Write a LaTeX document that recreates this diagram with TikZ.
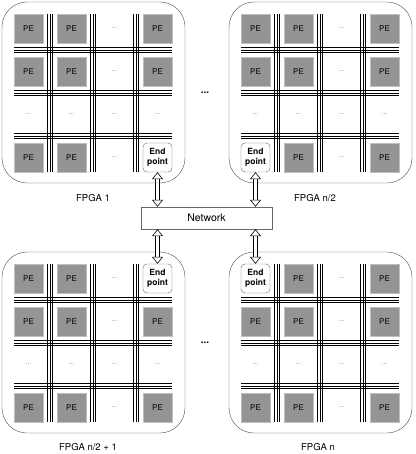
\documentclass[tikz,border=0pt]{standalone}
\usepackage{fontspec}
\setmainfont{TeX Gyre Heros}
\usetikzlibrary{arrows.meta}

\tikzset{
  fpga/.style={draw=black!70, rounded corners=25pt},
  pe/.style={draw=black!25, fill=black!42, minimum size=29pt, inner sep=0pt,
    font=\fontsize{8}{9}\selectfont},
  endpt/.style={draw=black!60, fill=white, rounded corners=4pt, minimum size=29pt,
    inner sep=0pt, align=center, font=\fontsize{8.5}{10}\selectfont\bfseries},
  gap/.style={text=black!45, inner sep=0pt, font=\fontsize{7}{8}\selectfont},
  bus/.style={black, line width=0.5pt},
  link/.style={double, double distance=3.5pt, line width=0.6pt,
    {Triangle[open,length=7pt,width=11pt,line width=0.6pt]}-{Triangle[open,length=7pt,width=11pt,line width=0.6pt]}},
}

\begin{document}
\begin{tikzpicture}[x=1pt,y=-1pt]
  \useasboundingbox (0,0) rectangle (415,454);

  % the four FPGAs
  \foreach \i/\bx/\by/\ex/\ey/\lx/\ly/\lab in {1/2/2/4/4/93/198/{FPGA 1},
      2/229/2/1/4/315/198/{FPGA n/2}, 3/2/252/4/1/88/447/{FPGA n/2 + 1},
      4/229/252/1/1/318/447/{FPGA n}} {
    \draw[fpga] (\bx,\by) rectangle ++(183,181);
    \node[font=\fontsize{9.5}{11}\selectfont] (lab\i) at (\lx,\ly) {\lab};

    % buses
    \foreach \k in {1,2,3}
      \foreach \d in {-2.7,0,2.7} {
        \draw[bus] ({\bx+48+43*(\k-1)+\d},\by+12) -- ++(0,158);
        \draw[bus] (\bx+12,{\by+48+43*(\k-1)+\d}) -- ++(158,0);
      }

    % processing elements
    \foreach \c in {1,...,4}
      \foreach \r in {1,...,4} {
        \pgfmathtruncatemacro\isep{(\c==\ex)&&(\r==\ey)}
        \pgfmathtruncatemacro\isgap{(\c==3)||(\r==3)}
        \ifnum\isep=1
          \node[endpt] (ep\i) at ({\bx+26.5+43*(\c-1)},{\by+26.5+43*(\r-1)}) {End\\point};
        \else\ifnum\isgap=1
          \node[gap] (c\i\c\r) at ({\bx+26.5+43*(\c-1)},{\by+26.5+43*(\r-1)}) {...};
        \else
          \node[pe] (c\i\c\r) at ({\bx+26.5+43*(\c-1)},{\by+26.5+43*(\r-1)}) {PE};
        \fi\fi
      }
  }

  \node[draw=black!60, minimum width=131pt, minimum height=22pt,
    font=\fontsize{10.5}{12}\selectfont] (net) at (206.5,218) {Network};

  \node[font=\bfseries] (more1) at (205,93) {...};
  \node[font=\bfseries] (more2) at (205,343) {...};

  \draw[link] (ep1) -- (ep1 |- net.north);
  \draw[link] (ep2) -- (ep2 |- net.north);
  \draw[link] (ep3) -- (ep3 |- net.south);
  \draw[link] (ep4) -- (ep4 |- net.south);
\end{tikzpicture}
\end{document}
